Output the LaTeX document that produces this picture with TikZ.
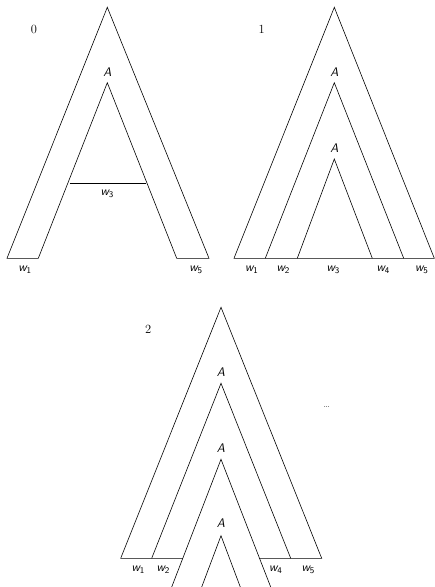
\documentclass[tikz,border=0pt]{standalone}
\usepackage{tikz}
\usetikzlibrary{calc}
\tikzset{
  tree/.style={draw=black,line width=0.6pt,line join=miter},
  stage/.style={font=\fontsize{12.5}{14}\selectfont\rmfamily,inner sep=0pt},
  nonterm/.style={font=\fontsize{12.5}{14}\selectfont\sffamily\slshape,inner sep=0pt},
  wlabel/.style={font=\fontsize{12.5}{14}\selectfont\sffamily,inner sep=0pt},
  more/.style={font=\normalsize,inner sep=0pt,text=black!60}
}
\newcommand{\wsub}[1]{{\slshape w}\textsubscript{#1}}

\begin{document}
\begin{tikzpicture}[x=1pt,y=-1pt]
\useasboundingbox (0,0) rectangle (435,587);
% stage 0
\coordinate (a0) at (107.3,7.3);
\coordinate (a0L) at (7,258.3);
\coordinate (a0R) at (209,258.3);
\coordinate (b0) at (107.3,82.7);
\coordinate (b0L) at (38.3,258.3);
\coordinate (b0R) at (176.7,258.3);
\coordinate (c0L) at (69.7,183.3);
\coordinate (c0R) at (145.7,183.3);
\draw[tree](b0L)--(a0L)--(a0)--(a0R)--(b0R);
\draw[tree](b0L)--(b0)--(b0R);
\draw[tree](c0L)--(c0R);
\node[stage] (n0) at (34,29) {0};
\node[nonterm] (A0) at (107.3,72) {A};
\node[wlabel] (w03) at (107.3,194) {\wsub{3}};
\node[wlabel] (w01) at (25,270) {\wsub{1}};
\node[wlabel] (w05) at (196,270) {\wsub{5}};
% stage 1
\coordinate (a1) at (334.3,7.3);
\coordinate (a1L) at (234,258.3);
\coordinate (a1R) at (434.3,258.3);
\coordinate (b1) at (334.3,82.7);
\coordinate (b1L) at (265.3,258.3);
\coordinate (b1R) at (403.7,258.3);
\coordinate (c1) at (334.3,159);
\coordinate (c1L) at (297.3,258.3);
\coordinate (c1R) at (372.3,258.3);
\draw[tree](a1L)--(a1)--(a1R)--cycle;
\draw[tree](b1L)--(b1)--(b1R);
\draw[tree](c1L)--(c1)--(c1R);
\node[stage] (n1) at (261.7,29) {1};
\node[nonterm] (A1a) at (334.3,72) {A};
\node[nonterm] (A1b) at (334.3,148) {A};
\node[wlabel] (w11) at (251.7,270) {\wsub{1}};
\node[wlabel] (w12) at (283.3,270) {\wsub{2}};
\node[wlabel] (w13) at (333.3,270) {\wsub{3}};
\node[wlabel] (w14) at (383.3,270) {\wsub{4}};
\node[wlabel] (w15) at (421.7,270) {\wsub{5}};
% stage 2
\coordinate (a2) at (221,307.3);
\coordinate (a2L) at (120.7,558.3);
\coordinate (a2R) at (321.7,558.3);
\coordinate (b2) at (221,383.3);
\coordinate (b2L) at (151.7,558.3);
\coordinate (b2R) at (290.7,558.3);
\coordinate (c2) at (221,459.3);
\coordinate (c2L) at (171.7,587);
\coordinate (c2R) at (270.7,587);
\coordinate (d2) at (221,535.7);
\coordinate (d2L) at (201.7,587);
\coordinate (d2R) at (240.3,587);
\coordinate (e2L) at (182.9,558.3);
\coordinate (e2R) at (259.1,558.3);
\draw[tree](e2L)--(a2L)--(a2)--(a2R)--(e2R);
\draw[tree](b2L)--(b2)--(b2R);
\draw[tree](c2L)--(c2)--(c2R);
\draw[tree](d2L)--(d2)--(d2R);
\node[stage] (n2) at (148.3,329) {2};
\node[nonterm] (A2a) at (221,371.7) {A};
\node[nonterm] (A2b) at (221,448.3) {A};
\node[nonterm] (A2c) at (221,523.3) {A};
\node[more] (dots) at (326.7,407.3) {\dots};
\node[wlabel] (w21) at (138.3,570) {\wsub{1}};
\node[wlabel] (w22) at (163.3,570) {\wsub{2}};
\node[wlabel] (w24) at (275.7,570) {\wsub{4}};
\node[wlabel] (w25) at (308.3,570) {\wsub{5}};
\end{tikzpicture}
\end{document}
